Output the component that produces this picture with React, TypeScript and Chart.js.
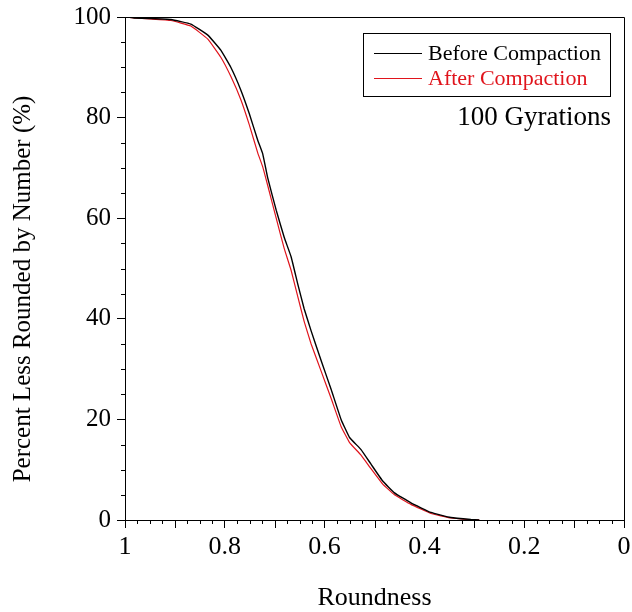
import React, { useEffect, useRef } from "react";
import { Chart, registerables } from "chart.js";

Chart.register(...registerables);

const BEFORE_R = [1.0, 0.982, 0.95, 0.908, 0.868, 0.834, 0.808, 0.788, 0.768, 0.751, 0.734, 0.724, 0.714, 0.697, 0.681, 0.667, 0.654, 0.641, 0.627, 0.607, 0.587, 0.567, 0.55, 0.527, 0.507, 0.484, 0.46, 0.427, 0.387, 0.347, 0.307, 0.29];
const BEFORE_P = [100, 99.8, 99.7, 99.5, 98.6, 96.4, 93.4, 90.0, 85.5, 80.8, 75.5, 72.8, 68.0, 61.6, 56.2, 52.3, 47.0, 42.0, 37.6, 31.7, 26.0, 20.0, 16.4, 14.0, 11.1, 7.8, 5.4, 3.4, 1.5, 0.5, 0.1, 0];

const AFTER_R = [1.0, 0.982, 0.95, 0.908, 0.868, 0.834, 0.808, 0.788, 0.768, 0.751, 0.734, 0.724, 0.714, 0.697, 0.681, 0.667, 0.654, 0.641, 0.627, 0.607, 0.587, 0.567, 0.55, 0.527, 0.507, 0.484, 0.46, 0.427, 0.387, 0.347, 0.307, 0.29];
const AFTER_P = [100, 99.8, 99.6, 99.3, 98.2, 95.6, 92.0, 88.2, 83.6, 78.6, 73.0, 70.2, 66.5, 60.0, 54.0, 49.6, 44.5, 39.5, 35.0, 29.6, 24.2, 18.6, 15.4, 12.9, 10.2, 7.2, 5.0, 3.1, 1.3, 0.4, 0.05, 0];

const SERIES_NAMES = ["Before Compaction", "After Compaction"];
const ANNOTATION = "100 Gyrations";
const X_TITLE = "Roundness";
const Y_TITLE = "Percent Less Rounded by Number (%)";

const X_MIN = 0, X_MAX = 1, X_MAJOR = 0.2, X_MINOR = 0.025;
const Y_MIN = 0, Y_MAX = 100, Y_MAJOR = 20, Y_MINOR = 5;

const BLACK = "#000000";
const RED = "#e0141c";
const FONT = "'Liberation Serif', 'Times New Roman', serif";

const decorPlugin = {
  id: "decor",
  afterDraw(chart: any) {
    const ctx = chart.ctx;
    const { left, right, top, bottom } = chart.chartArea;
    const xs = chart.scales.x;
    const ys = chart.scales.y;
    ctx.save();
    ctx.strokeStyle = BLACK;
    ctx.lineWidth = 1;
    // frame
    ctx.beginPath();
    ctx.moveTo(left, top + 0.5);
    ctx.lineTo(right + 0.5, top + 0.5);
    ctx.lineTo(right + 0.5, bottom);
    ctx.stroke();
    // minor x ticks
    const nx = Math.round((X_MAX - X_MIN) / X_MINOR);
    for (let i = 0; i <= nx; i++) {
      if (i % 8 === 0) continue;
      const v = X_MIN + i * X_MINOR;
      const px = Math.round(xs.getPixelForValue(v)) + 0.5;
      const len = i % 4 === 0 ? 8 : 4;
      ctx.beginPath();
      ctx.moveTo(px, bottom);
      ctx.lineTo(px, bottom + len);
      ctx.stroke();
    }
    const ny = Math.round((Y_MAX - Y_MIN) / Y_MINOR);
    for (let i = 0; i <= ny; i++) {
      if (i % 4 === 0) continue;
      const v = Y_MIN + i * Y_MINOR;
      const py = Math.round(ys.getPixelForValue(v)) + 0.5;
      ctx.beginPath();
      ctx.moveTo(left, py);
      ctx.lineTo(left - 4, py);
      ctx.stroke();
    }
    // y title
    ctx.save();
    ctx.translate(23, 289);
    ctx.rotate(-Math.PI / 2);
    ctx.font = `25px ${FONT}`;
    ctx.fillStyle = BLACK;
    ctx.textAlign = "center";
    ctx.textBaseline = "middle";
    ctx.fillText(Y_TITLE, 0, 0);
    ctx.restore();
    // x title
    ctx.font = `26px ${FONT}`;
    ctx.fillStyle = BLACK;
    ctx.textAlign = "center";
    ctx.textBaseline = "middle";
    ctx.fillText(X_TITLE, (left + right) / 2, 598);
    // legend box
    const bx = 363.5, by = 33.5, bw = 247, bh = 63;
    ctx.fillStyle = "#ffffff";
    ctx.fillRect(bx, by, bw, bh);
    ctx.strokeStyle = BLACK;
    ctx.strokeRect(bx, by, bw, bh);
    const colors = [BLACK, RED];
    const rowsY = [53, 78];
    ctx.font = `22px ${FONT}`;
    ctx.textAlign = "left";
    ctx.textBaseline = "middle";
    for (let i = 0; i < SERIES_NAMES.length; i++) {
      ctx.strokeStyle = colors[i];
      ctx.lineWidth = 1.2;
      ctx.beginPath();
      ctx.moveTo(374, rowsY[i] + 0.5);
      ctx.lineTo(422, rowsY[i] + 0.5);
      ctx.stroke();
      ctx.fillStyle = colors[i];
      ctx.fillText(SERIES_NAMES[i], 428, rowsY[i] + 1);
    }
    // annotation
    ctx.font = `27px ${FONT}`;
    ctx.fillStyle = BLACK;
    ctx.textAlign = "right";
    ctx.fillText(ANNOTATION, 611, 118);
    ctx.restore();
  },
};

export default function App() {
  const ref = useRef<HTMLCanvasElement | null>(null);
  useEffect(() => {
    if (!ref.current) return;
    const chart = new Chart(ref.current, {
      type: "line",
      data: {
        datasets: [
          {
            label: SERIES_NAMES[0],
            data: BEFORE_R.map((r, i) => ({ x: r, y: BEFORE_P[i] })),
            borderColor: BLACK,
            borderWidth: 1.4,
            pointRadius: 0,
            tension: 0.1,
            fill: false,
          },
          {
            label: SERIES_NAMES[1],
            data: AFTER_R.map((r, i) => ({ x: r, y: AFTER_P[i] })),
            borderColor: RED,
            borderWidth: 1.2,
            pointRadius: 0,
            tension: 0.1,
            fill: false,
          },
        ],
      },
      options: {
        animation: false,
        responsive: false,
        layout: { padding: { top: 17, right: 8, left: 0, bottom: 0 } },
        plugins: { legend: { display: false }, tooltip: { enabled: false } },
        scales: {
          x: {
            type: "linear",
            reverse: true,
            min: X_MIN,
            max: X_MAX,
            afterFit: (s: any) => { s.height = 92; s.paddingRight = 0; s.paddingLeft = 0; },
            border: { display: true, color: BLACK, width: 1 },
            grid: { drawOnChartArea: false, tickLength: 8, color: BLACK, tickColor: BLACK },
            ticks: {
              stepSize: X_MAJOR,
              autoSkip: false,
              maxRotation: 0,
              color: BLACK,
              padding: 4,
              font: { family: FONT, size: 26 },
              callback: (v: any) => String(Math.round(Number(v) * 10) / 10),
            },
          },
          y: {
            type: "linear",
            min: Y_MIN,
            max: Y_MAX,
            afterFit: (s: any) => { s.width = 125; s.paddingTop = 0; s.paddingBottom = 0; },
            border: { display: true, color: BLACK, width: 1 },
            grid: { drawOnChartArea: false, tickLength: 8, color: BLACK, tickColor: BLACK },
            ticks: {
              stepSize: Y_MAJOR,
              color: BLACK,
              padding: 6,
              font: { family: FONT, size: 25, lineHeight: 1 },
            },
          },
        },
      },
      plugins: [decorPlugin],
    });
    return () => chart.destroy();
  }, []);
  return (
    <div style={{ position: "fixed", left: 0, top: 0, width: 632, height: 612, background: "#fff" }}>
      <canvas ref={ref} width={632} height={612} style={{ display: "block" }} />
    </div>
  );
}
